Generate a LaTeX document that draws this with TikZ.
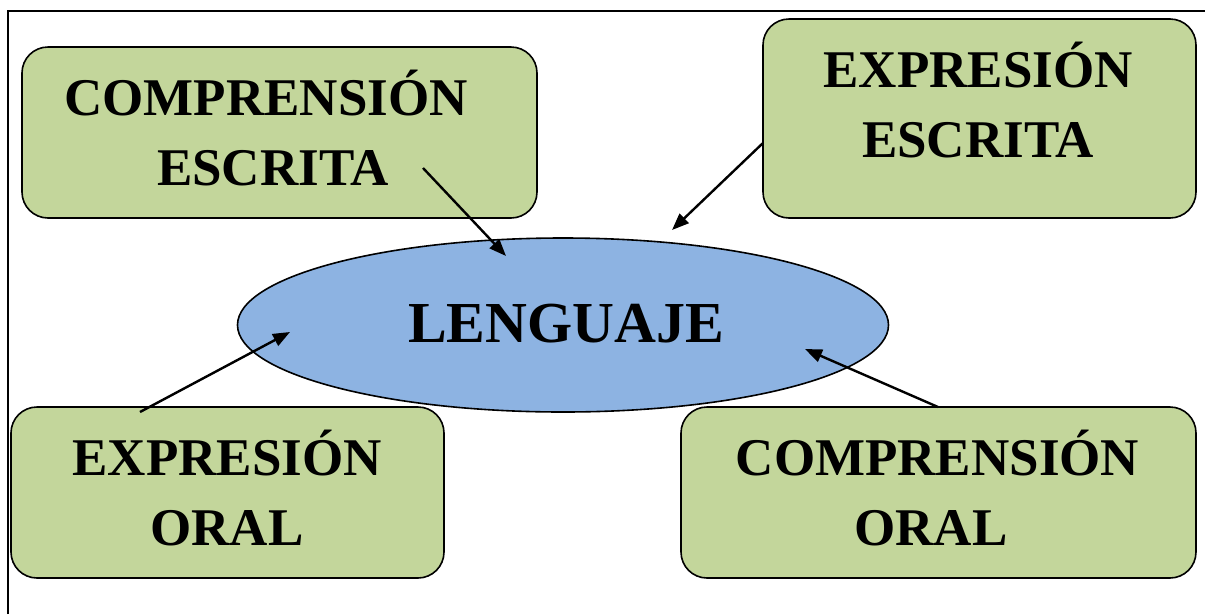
\documentclass[tikz,border=0pt]{standalone}
\usepackage{fontspec}
\setmainfont{Liberation Serif}
\usetikzlibrary{arrows.meta,shapes.geometric}
\definecolor{boxgreen}{HTML}{C3D69B}
\definecolor{ellblue}{HTML}{8DB3E2}
\begin{document}
\begin{tikzpicture}[x=1pt,y=-1pt,
  gbox/.style={draw=black,line width=1.6pt,fill=boxgreen,rounded corners=26pt},
  lbl/.style={anchor=base,inner sep=0pt,font=\fontsize{53}{60}\selectfont\bfseries},
  arr/.style={line width=2.4pt,-{Triangle[length=17pt,width=13pt]}}]
\useasboundingbox (0,0) rectangle (1205,614);
\draw[line width=1.6pt] (8,614) -- (8,11) -- (1205,11);
% boxes
\draw[gbox] (22,47) rectangle (537,218);
\draw[gbox] (763,19) rectangle (1196,218);
\draw[gbox] (11,407) rectangle (444,578);
\draw[gbox] (681,407) rectangle (1196,578);
% ellipse
\node[draw=black,line width=1.6pt,fill=ellblue,ellipse,minimum width=651pt,minimum height=174pt,inner sep=0pt] (leng) at (563,325) {};
\node[lbl,font=\fontsize{58}{60}\selectfont\bfseries] (lengt) at (566,342) {LENGUAJE};
% labels
\node[lbl] (ce1) at (266,115) {COMPRENSIÓN};
\node[lbl] (ce2) at (273,185) {ESCRITA};
\node[lbl] (ee1) at (978,87) {EXPRESIÓN};
\node[lbl] (ee2) at (978,157) {ESCRITA};
\node[lbl] (eo1) at (227,475) {EXPRESIÓN};
\node[lbl] (eo2) at (227,545) {ORAL};
\node[lbl] (co1) at (937.5,475) {COMPRENSIÓN};
\node[lbl] (co2) at (931,545) {ORAL};
% arrows
\coordinate (a1s) at (423,168); \coordinate (a1e) at (506,256);
\coordinate (a2s) at (763,143); \coordinate (a2e) at (672,230);
\coordinate (a3s) at (140,412); \coordinate (a3e) at (290,332);
\coordinate (a4s) at (938,407); \coordinate (a4e) at (805,349);
\draw[arr] (a1s) -- (a1e);
\draw[arr] (a2s) -- (a2e);
\draw[arr] (a3s) -- (a3e);
\draw[arr] (a4s) -- (a4e);
\end{tikzpicture}
\end{document}
